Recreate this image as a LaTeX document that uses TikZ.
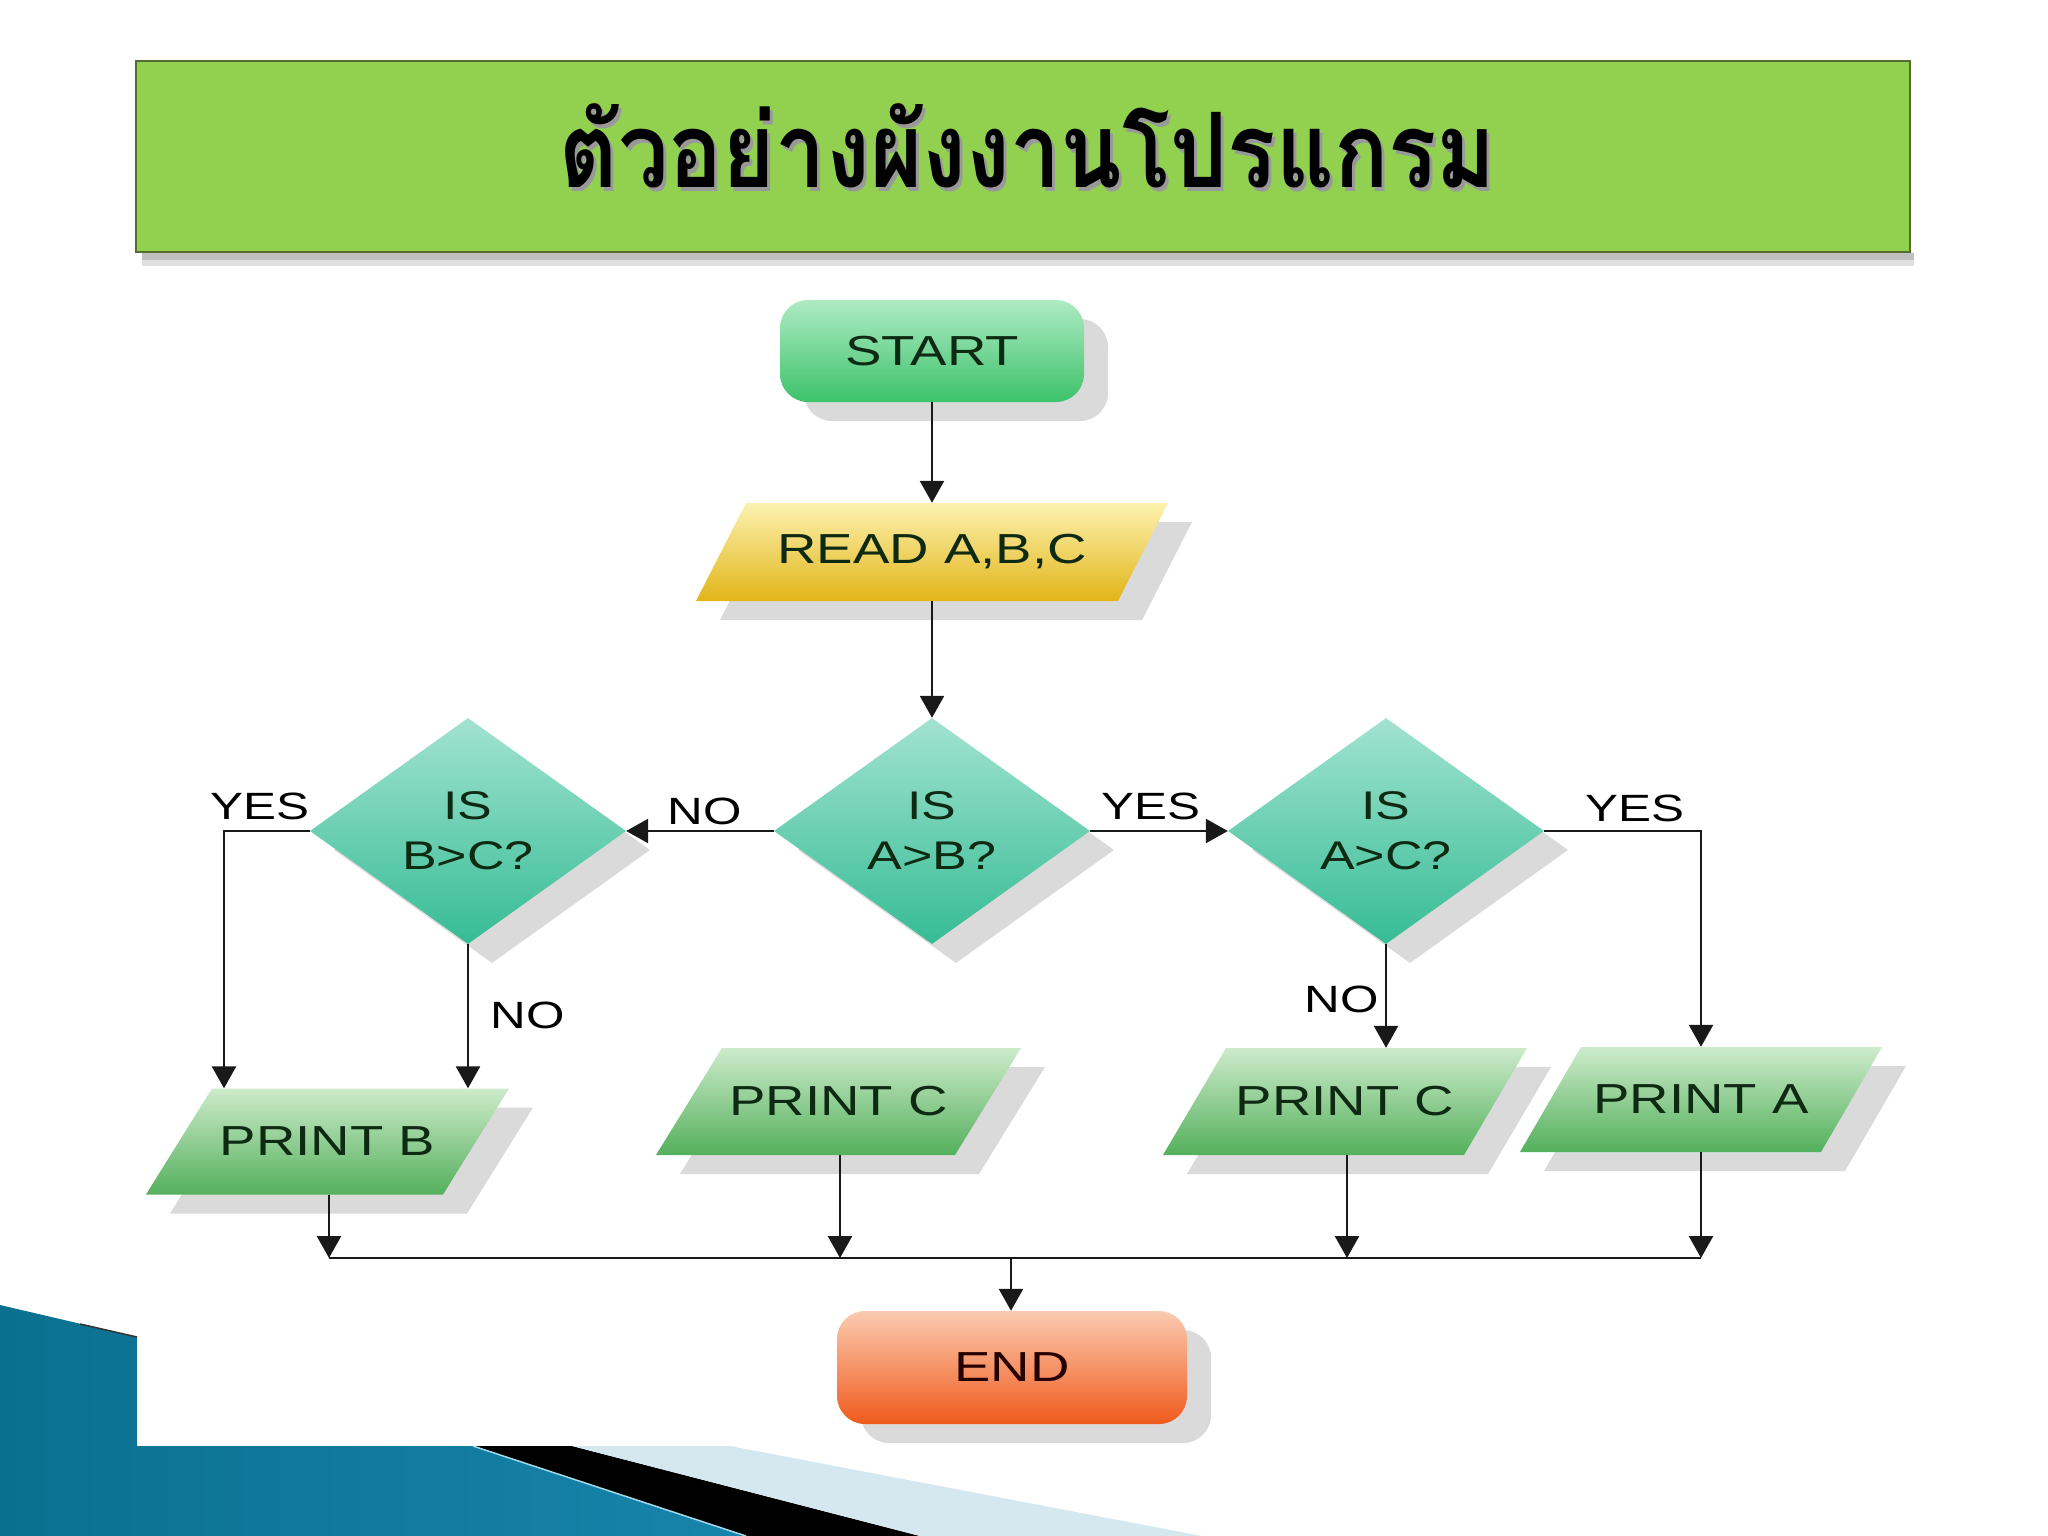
\documentclass[tikz,border=0pt]{standalone}
\usepackage{fontspec}
\setmainfont{Liberation Sans}[FakeStretch=1.3]
\newfontfamily\thaifont[Script=Thai]{Loma}
\usetikzlibrary{shapes.geometric,arrows.meta,shadows,calc}
\definecolor{bannergreen}{HTML}{92D050}
\definecolor{bannerline}{HTML}{556B2F}
\definecolor{shgray}{HTML}{DADADA}
\definecolor{stTop}{HTML}{AEEBC4}
\definecolor{stBot}{HTML}{3DC26A}
\definecolor{rdTop}{HTML}{FCF2B0}
\definecolor{rdBot}{HTML}{E2B418}
\definecolor{dmTop}{HTML}{A2E3D0}
\definecolor{dmBot}{HTML}{36BC95}
\definecolor{prTop}{HTML}{CDEBCB}
\definecolor{prBot}{HTML}{54B05C}
\definecolor{enTop}{HTML}{FBCBB0}
\definecolor{enBot}{HTML}{EF5A1C}
\definecolor{txtdark}{HTML}{0E2A12}
\definecolor{blueDark}{HTML}{0B7090}
\definecolor{blueMid}{HTML}{4AB2D6}
\definecolor{blueEnd}{HTML}{1784AA}
\definecolor{paleBlue}{HTML}{D5E8F0}
% #1 centre coordinate, #2 total width, #3 height, #4 slant, #5 top colour, #6 bottom colour
\newcommand\ioshape[6]{%
  \fill[shgray] ($(#1)+(-#2/2+#4+24,-#3/2+19)$) -- ($(#1)+(#2/2+24,-#3/2+19)$)
     -- ($(#1)+(#2/2-#4+24,#3/2+19)$) -- ($(#1)+(-#2/2+24,#3/2+19)$) -- cycle;
  \path[top color=#5, bottom color=#6] ($(#1)+(-#2/2+#4,-#3/2)$) -- ($(#1)+(#2/2,-#3/2)$)
     -- ($(#1)+(#2/2-#4,#3/2)$) -- ($(#1)+(-#2/2,#3/2)$) -- cycle;
}
\begin{document}
\begin{tikzpicture}[x=1pt,y=-1pt,
  shadowed/.style={drop shadow={shadow xshift=24pt,shadow yshift=-19pt,fill=shgray,opacity=1}},
  boxtext/.style={font=\fontsize{42pt}{50pt}\selectfont, text=txtdark, inner sep=0pt, align=center},
  term/.style={rectangle, rounded corners=28pt, shadowed, boxtext},
  iotext/.style={rectangle, boxtext, minimum height=106pt, minimum width=363pt},
  decision/.style={diamond, shadowed, boxtext, font=\fontsize{40pt}{50pt}\selectfont, top color=dmTop, bottom color=dmBot, minimum width=316pt, minimum height=226pt},
  lbl/.style={font=\fontsize{38pt}{40pt}\selectfont, text=black, inner sep=0pt},
  conn/.style={line width=2.5pt, draw=black!90},
  arr/.style={conn, -{Triangle[length=22pt,width=24pt]}},
]
\useasboundingbox (0,0) rectangle (2048,1536);
\fill[white] (0,0) rectangle (2048,1536);

% bottom-left decoration
\path[left color=blueDark, middle color=blueMid, right color=blueEnd]
  (0,1305) -- (137,1337) -- (137,1446) -- (473,1446) -- (746,1536) -- (0,1536) -- cycle;
\draw[black!80, line width=1.5pt] (80,1324) -- (137,1337);
\fill[black] (473,1446) -- (572,1446) -- (920,1536) -- (746,1536) -- cycle;
\draw[blueMid!50!white, line width=1.5pt] (473,1446) -- (746,1536);
\fill[paleBlue] (572,1446) -- (730,1446) -- (1202,1536) -- (920,1536) -- cycle;

% banner
\fill[black!25] (142,253) rectangle (1914,260);
\fill[black!12] (142,260) rectangle (1914,266);
\node[draw=bannerline, line width=2pt, fill=bannergreen, minimum width=1774pt, minimum height=191pt, inner sep=0pt] (banner) at (1023,156.5) {};
\node[anchor=base, text=black!40, inner sep=0pt] (titleshadow) at (1031,191)
  {\resizebox{936pt}{\height}{\thaifont\bfseries\fontsize{104pt}{104pt}\selectfont ตัวอย่างผังงานโปรแกรม}};
\node[anchor=base, text=black, inner sep=0pt] (title) at (1028,187)
  {\resizebox{936pt}{\height}{\thaifont\bfseries\fontsize{104pt}{104pt}\selectfont ตัวอย่างผังงานโปรแกรม}};

% centres of the input/output shapes
\coordinate (rdc) at (932,552);
\coordinate (pbc) at (327.5,1141.5);
\coordinate (pc1c) at (838.5,1101.5);
\coordinate (pc2c) at (1345,1101.5);
\coordinate (pac) at (1701,1099.5);
\ioshape{rdc}{472}{98}{50}{rdTop}{rdBot}
\ioshape{pbc}{363}{106}{66}{prTop}{prBot}
\ioshape{pc1c}{365}{107}{66}{prTop}{prBot}
\ioshape{pc2c}{364}{107}{63}{prTop}{prBot}
\ioshape{pac}{362}{105}{61}{prTop}{prBot}

% flowchart nodes
\node[term, top color=stTop, bottom color=stBot, minimum width=304pt, minimum height=102pt] (start) at (932,351) {START};
\node[iotext, minimum width=472pt, minimum height=98pt] (read) at (rdc) {READ A,B,C};
\node[decision] (ab) at (932,831) {IS\\A>B?};
\node[decision] (bc) at (468,831) {IS\\B>C?};
\node[decision] (ac) at (1386,831) {IS\\A>C?};
\node[iotext] (pb) at (pbc) {PRINT B};
\node[iotext, minimum height=107pt] (pc1) at (pc1c) {PRINT C};
\node[iotext, minimum height=107pt] (pc2) at (pc2c) {PRINT C};
\node[iotext, minimum height=105pt] (pa) at (pac) {PRINT A};
\node[term, top color=enTop, bottom color=enBot, minimum width=350pt, minimum height=113pt, text=black!85!red] (end) at (1012,1367.5) {END};

% bus coordinates
\coordinate (bus1) at (329,1258);
\coordinate (bus2) at (840,1258);
\coordinate (bus3) at (1347,1258);
\coordinate (bus4) at (1701,1258);
\coordinate (busm) at (1011,1258);

% connectors
\draw[arr] (start) -- (read);
\draw[arr] (read) -- (ab);
\draw[arr] (ab.west) -- (bc.east);
\draw[arr] (ab.east) -- (ac.west);
\draw[arr] (bc.west) -| ($(pb.north)+(-103.5,0)$);
\draw[arr] (bc.south) -- (bc.south |- pb.north);
\draw[arr] (ac.east) -| (pa.north);
\draw[arr] (ac.south) -- (ac.south |- pc2.north);
\draw[arr] (pb.south -| bus1) -- (bus1);
\draw[arr] (pc1.south -| bus2) -- (bus2);
\draw[arr] (pc2.south -| bus3) -- (bus3);
\draw[arr] (pa.south -| bus4) -- (bus4);
\draw[conn] (bus1) -- (bus4);
\draw[arr] (busm) -- (busm |- end.north);

% labels
\node[lbl] (lno1) at (705,811) {NO};
\node[lbl] (lyes1) at (1151,806) {YES};
\node[lbl] (lyes2) at (260,806) {YES};
\node[lbl] (lno2) at (528,1015) {NO};
\node[lbl] (lyes3) at (1635,808) {YES};
\node[lbl] (lno3) at (1342,999) {NO};
\end{tikzpicture}
\end{document}
